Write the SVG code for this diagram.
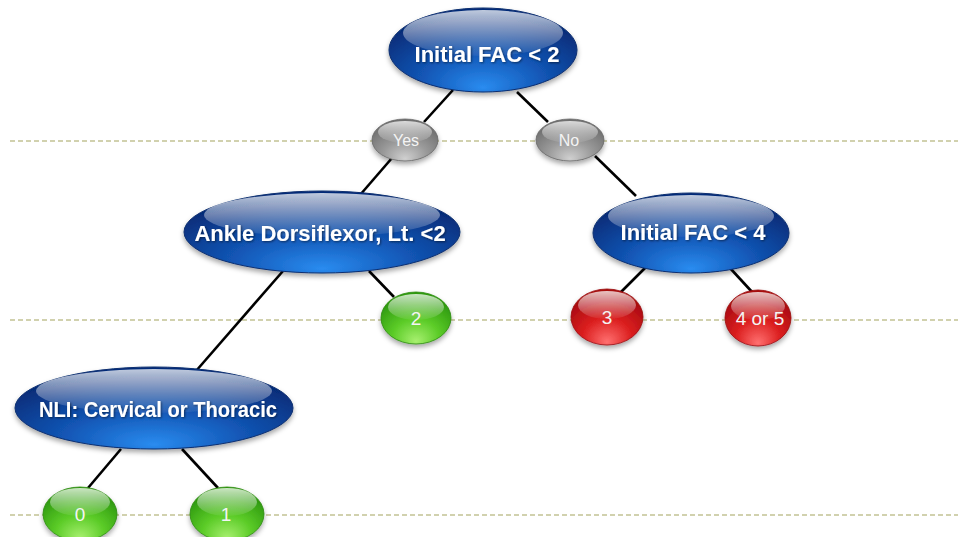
<svg xmlns="http://www.w3.org/2000/svg" width="958" height="537" viewBox="0 0 958 537">
<defs>
<radialGradient id="gBlue" cx="50%" cy="75%" r="65%" fx="50%" fy="95%">
<stop offset="0" stop-color="#2a8cf0"/>
<stop offset="0.5" stop-color="#1255b4"/>
<stop offset="1" stop-color="#062c78"/>
</radialGradient>
<radialGradient id="gGray" cx="50%" cy="75%" r="65%" fx="50%" fy="95%">
<stop offset="0" stop-color="#d0d0d0"/>
<stop offset="0.5" stop-color="#9a9a9a"/>
<stop offset="1" stop-color="#707070"/>
</radialGradient>
<radialGradient id="gGreen" cx="50%" cy="75%" r="65%" fx="50%" fy="95%">
<stop offset="0" stop-color="#a8f070"/>
<stop offset="0.5" stop-color="#5ccc28"/>
<stop offset="1" stop-color="#2f9a10"/>
</radialGradient>
<radialGradient id="gRed" cx="50%" cy="75%" r="65%" fx="50%" fy="95%">
<stop offset="0" stop-color="#ff7070"/>
<stop offset="0.5" stop-color="#dc2020"/>
<stop offset="1" stop-color="#a80a10"/>
</radialGradient>
<linearGradient id="gHi" x1="0" y1="0" x2="0" y2="1">
<stop offset="0" stop-color="#ffffff" stop-opacity="0.75"/>
<stop offset="1" stop-color="#ffffff" stop-opacity="0.05"/>
</linearGradient>
<filter id="sh" x="-20%" y="-20%" width="140%" height="160%">
<feDropShadow dx="0" dy="3" stdDeviation="2.5" flood-color="#000" flood-opacity="0.35"/>
</filter>
<filter id="ts" x="-10%" y="-30%" width="120%" height="160%">
<feDropShadow dx="1" dy="1" stdDeviation="0.8" flood-color="#000" flood-opacity="0.5"/>
</filter>
</defs>
<style>
.guide{stroke:#c2c294;stroke-width:1.5;stroke-dasharray:5 3;fill:none}
.edge{stroke:#000;stroke-width:2.6;fill:none}
.blue{fill:url(#gBlue);stroke:#0a2f70;stroke-width:1;filter:url(#sh)}
.gray{fill:url(#gGray);stroke:#666;stroke-width:0.8;filter:url(#sh)}
.green{fill:url(#gGreen);stroke:#2c8a10;stroke-width:0.8;filter:url(#sh)}
.red{fill:url(#gRed);stroke:#9a0a10;stroke-width:0.8;filter:url(#sh)}
.hi{fill:url(#gHi)}
.big{font-family:"Liberation Sans",Arial,sans-serif;font-weight:bold;font-size:22px;fill:#ffffff;text-anchor:middle;filter:url(#ts)}
.small{font-family:"Liberation Sans",Arial,sans-serif;font-size:16px;fill:#f4f4f4;text-anchor:middle}
.num{font-family:"Liberation Sans",Arial,sans-serif;font-size:19px;fill:#f4f4f4;text-anchor:middle}
</style>
<rect width="958" height="537" fill="#ffffff"/>
<g id="guides">
<line class="guide" x1="10" y1="141" x2="958" y2="141"/>
<line class="guide" x1="10" y1="320" x2="958" y2="320"/>
<line class="guide" x1="10" y1="515" x2="958" y2="515"/>
</g>
<g id="connectors">
<line class="edge" x1="453" y1="90" x2="424" y2="122"/>
<line class="edge" x1="517" y1="92" x2="548" y2="122"/>
<line class="edge" x1="392" y1="158" x2="360" y2="195"/>
<line class="edge" x1="595" y1="156" x2="636" y2="196"/>
<line class="edge" x1="283" y1="271" x2="196" y2="371"/>
<line class="edge" x1="369" y1="271" x2="394" y2="297"/>
<line class="edge" x1="645" y1="268" x2="620" y2="293"/>
<line class="edge" x1="730" y1="268" x2="753" y2="293"/>
<line class="edge" x1="121" y1="449" x2="88" y2="488"/>
<line class="edge" x1="182" y1="449" x2="218" y2="488"/>
</g>
<g id="n-fac2">
<ellipse class="blue" cx="483" cy="50" rx="94" ry="42"/>
<ellipse class="hi" cx="483" cy="33" rx="80" ry="23"/>
<text class="big" x="487" y="62">Initial FAC &lt; 2</text>
</g>
<g id="n-yes">
<ellipse class="gray" cx="405" cy="140" rx="33" ry="21"/>
<ellipse class="hi" cx="405" cy="132" rx="27" ry="11"/>
<text class="small" x="406" y="146">Yes</text>
</g>
<g id="n-no">
<ellipse class="gray" cx="570" cy="140" rx="34" ry="21"/>
<ellipse class="hi" cx="570" cy="132" rx="28" ry="11"/>
<text class="small" x="569" y="146">No</text>
</g>
<g id="n-ankle">
<ellipse class="blue" cx="322" cy="232" rx="138" ry="41"/>
<ellipse class="hi" cx="322" cy="215" rx="118" ry="22"/>
<text class="big" x="320" y="241">Ankle Dorsiflexor, Lt. &lt;2</text>
</g>
<g id="n-fac4">
<ellipse class="blue" cx="691" cy="233" rx="98" ry="40"/>
<ellipse class="hi" cx="691" cy="216" rx="83" ry="21"/>
<text class="big" x="693" y="240">Initial FAC &lt; 4</text>
</g>
<g id="n-2">
<ellipse class="green" cx="416" cy="318" rx="35" ry="26"/>
<ellipse class="hi" cx="416" cy="307" rx="28" ry="13"/>
<text class="num" x="416" y="325">2</text>
</g>
<g id="n-3">
<ellipse class="red" cx="607" cy="317" rx="36" ry="28"/>
<ellipse class="hi" cx="607" cy="305" rx="29" ry="14"/>
<text class="num" x="607" y="324">3</text>
</g>
<g id="n-45">
<ellipse class="red" cx="758" cy="318" rx="33" ry="28"/>
<ellipse class="hi" cx="758" cy="306" rx="27" ry="14"/>
<text class="num" x="760" y="325">4 or 5</text>
</g>
<g id="n-nli">
<ellipse class="blue" cx="154" cy="408" rx="139" ry="41"/>
<ellipse class="hi" cx="154" cy="391" rx="118" ry="22"/>
<text class="big" x="158" y="417" textLength="238" lengthAdjust="spacingAndGlyphs">NLI: Cervical or Thoracic</text>
</g>
<g id="n-0">
<ellipse class="green" cx="80" cy="514" rx="37" ry="27"/>
<ellipse class="hi" cx="80" cy="502" rx="30" ry="14"/>
<text class="num" x="80" y="521">0</text>
</g>
<g id="n-1">
<ellipse class="green" cx="227" cy="514" rx="37" ry="27"/>
<ellipse class="hi" cx="227" cy="502" rx="30" ry="14"/>
<text class="num" x="226" y="521">1</text>
</g>
</svg>
